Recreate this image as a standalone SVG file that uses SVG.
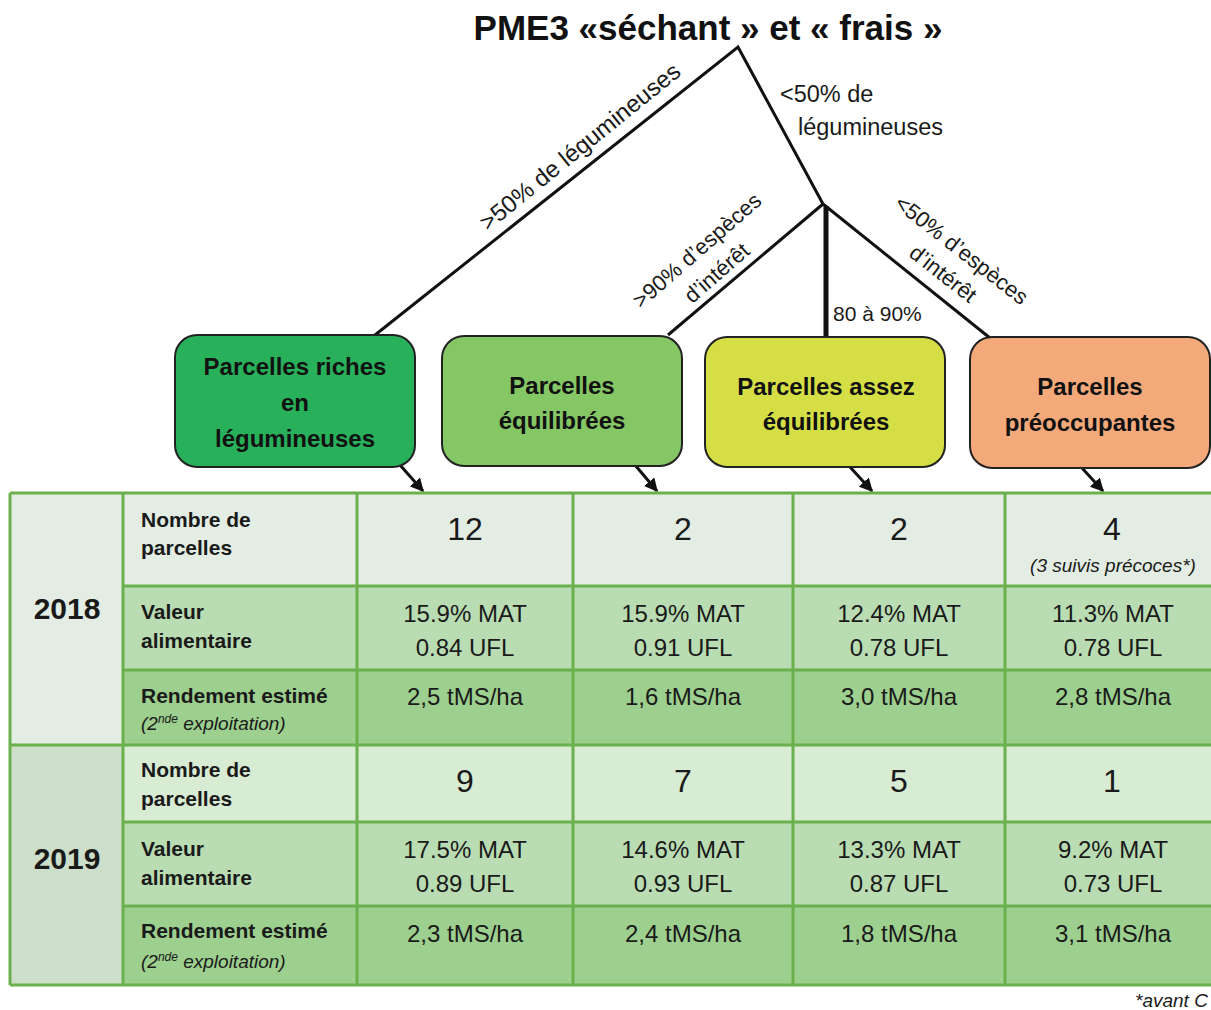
<svg xmlns="http://www.w3.org/2000/svg" width="1211" height="1010" viewBox="0 0 1211 1010">
<defs>
<marker id="ah" viewBox="0 0 10 10" refX="9" refY="5" markerWidth="4.5" markerHeight="4.5" orient="auto" markerUnits="strokeWidth">
<path d="M0,0 L10,5 L0,10 z" fill="#111"/>
</marker>
<style>
text{font-family:"Liberation Sans",Arial,sans-serif;fill:#1a1a1a}
.title{font-size:35px;font-weight:bold;text-anchor:middle;fill:#111}
.lbl{font-size:22px}
.box{stroke:#222;stroke-width:2}
.bt{font-size:24px;font-weight:bold;text-anchor:middle;fill:#111}
.tree{stroke:#111;stroke-width:3;fill:none}
.arr{stroke:#111;stroke-width:3;fill:none;marker-end:url(#ah)}
.grid{stroke:#6ab04c;stroke-width:3;fill:none}
.rl{font-size:21px;font-weight:bold}
.it{font-size:19px;font-style:italic}
.yr{font-size:30px;font-weight:bold;text-anchor:middle}
.num{font-size:32px;text-anchor:middle}
.val{font-size:24px;text-anchor:middle}
</style>
</defs>

<text class="title" x="708" y="40">PME3 «séchant » et « frais »</text>

<g id="connectors">
<polyline class="tree" points="375,335 738,47 823,204"/>
<line class="tree" x1="823" y1="204" x2="668" y2="335"/>
<line class="tree" x1="823" y1="204" x2="990" y2="338"/>
<line x1="826" y1="206" x2="826" y2="338" stroke="#111" stroke-width="5"/>
<line class="arr" x1="400" y1="465" x2="423" y2="491"/>
<line class="arr" x1="635" y1="465" x2="657" y2="491"/>
<line class="arr" x1="850" y1="467" x2="872" y2="491"/>
<line class="arr" x1="1082" y1="468" x2="1103" y2="491"/>
<text class="lbl" transform="translate(585,153) rotate(-39)" text-anchor="middle" style="font-size:24px">&gt;50% de légumineuses</text>
<text class="lbl" x="780" y="102" style="font-size:23.5px">&lt;50% de</text>
<text class="lbl" x="798" y="135" style="font-size:23.5px">légumineuses</text>
<g transform="translate(702,256) rotate(-41)">
<text class="lbl" x="0" y="0" text-anchor="middle">&gt;90% d’espèces</text>
<text class="lbl" x="0" y="30" text-anchor="middle">d’intérêt</text>
</g>
<text class="lbl" x="833" y="321" style="font-size:21px">80 à 90%</text>
<g transform="translate(957,256) rotate(38)">
<text class="lbl" x="0" y="0" text-anchor="middle">&lt;50% d’espèces</text>
<text class="lbl" x="0" y="30" text-anchor="middle">d’intérêt</text>
</g>
</g>

<g id="node-riches">
<rect class="box" x="175" y="335" width="240" height="132" rx="22" fill="#28b05b"/>
<text class="bt" x="295" y="375">Parcelles riches</text>
<text class="bt" x="295" y="411">en</text>
<text class="bt" x="295" y="447">légumineuses</text>
</g>
<g id="node-equilibrees">
<rect class="box" x="442" y="336" width="240" height="130" rx="22" fill="#85c665"/>
<text class="bt" x="562" y="394">Parcelles</text>
<text class="bt" x="562" y="429">équilibrées</text>
</g>
<g id="node-assez">
<rect class="box" x="705" y="337" width="240" height="130" rx="22" fill="#d5df45"/>
<text class="bt" x="826" y="395">Parcelles assez</text>
<text class="bt" x="826" y="430">équilibrées</text>
</g>
<g id="node-preoccupantes">
<rect class="box" x="970" y="337" width="240" height="131" rx="22" fill="#f4a97b"/>
<text class="bt" x="1090" y="395">Parcelles</text>
<text class="bt" x="1090" y="431">préoccupantes</text>
</g>

<g id="table">
<rect x="10" y="493" width="113" height="252" fill="#e3ede3"/>
<rect x="10" y="745" width="113" height="240" fill="#cddfca"/>
<rect x="123" y="493" width="1102" height="93" fill="#e3ede3"/>
<rect x="123" y="586" width="1102" height="84" fill="#b9dcb2"/>
<rect x="123" y="670" width="1102" height="75" fill="#9dcf8e"/>
<rect x="123" y="745" width="1102" height="77" fill="#d8ebd3"/>
<rect x="123" y="822" width="1102" height="84" fill="#b9dcb2"/>
<rect x="123" y="906" width="1102" height="79" fill="#9dcf8e"/>
<path class="grid" d="M10,493 H1225 M10,745 H1225 M10,985 H1225 M123,586 H1225 M123,670 H1225 M123,822 H1225 M123,906 H1225 M10,493 V985 M123,493 V985 M357,493 V985 M573,493 V985 M793,493 V985 M1005,493 V985"/>

<text class="yr" x="67" y="619">2018</text>
<text class="yr" x="67" y="869">2019</text>

<text class="rl" x="141" y="527">Nombre de</text>
<text class="rl" x="141" y="555">parcelles</text>
<text class="rl" x="141" y="619">Valeur</text>
<text class="rl" x="141" y="648">alimentaire</text>
<text class="rl" x="141" y="703">Rendement estimé</text>
<text class="it" x="141" y="730">(2<tspan dy="-7" font-size="12">nde</tspan><tspan dy="7"> exploitation)</tspan></text>

<text class="rl" x="141" y="777">Nombre de</text>
<text class="rl" x="141" y="806">parcelles</text>
<text class="rl" x="141" y="856">Valeur</text>
<text class="rl" x="141" y="885">alimentaire</text>
<text class="rl" x="141" y="938">Rendement estimé</text>
<text class="it" x="141" y="968">(2<tspan dy="-7" font-size="12">nde</tspan><tspan dy="7"> exploitation)</tspan></text>

<text class="num" x="465" y="540">12</text>
<text class="num" x="683" y="540">2</text>
<text class="num" x="899" y="540">2</text>
<text class="num" x="1112" y="540">4</text>
<text class="it" x="1113" y="572" text-anchor="middle" style="font-size:19px">(3 suivis précoces*)</text>

<text class="val" x="465" y="622">15.9% MAT</text>
<text class="val" x="465" y="656">0.84 UFL</text>
<text class="val" x="683" y="622">15.9% MAT</text>
<text class="val" x="683" y="656">0.91 UFL</text>
<text class="val" x="899" y="622">12.4% MAT</text>
<text class="val" x="899" y="656">0.78 UFL</text>
<text class="val" x="1113" y="622">11.3% MAT</text>
<text class="val" x="1113" y="656">0.78 UFL</text>

<text class="val" x="465" y="705">2,5 tMS/ha</text>
<text class="val" x="683" y="705">1,6 tMS/ha</text>
<text class="val" x="899" y="705">3,0 tMS/ha</text>
<text class="val" x="1113" y="705">2,8 tMS/ha</text>

<text class="num" x="465" y="792">9</text>
<text class="num" x="683" y="792">7</text>
<text class="num" x="899" y="792">5</text>
<text class="num" x="1112" y="792">1</text>

<text class="val" x="465" y="858">17.5% MAT</text>
<text class="val" x="465" y="892">0.89 UFL</text>
<text class="val" x="683" y="858">14.6% MAT</text>
<text class="val" x="683" y="892">0.93 UFL</text>
<text class="val" x="899" y="858">13.3% MAT</text>
<text class="val" x="899" y="892">0.87 UFL</text>
<text class="val" x="1113" y="858">9.2% MAT</text>
<text class="val" x="1113" y="892">0.73 UFL</text>

<text class="val" x="465" y="942">2,3 tMS/ha</text>
<text class="val" x="683" y="942">2,4 tMS/ha</text>
<text class="val" x="899" y="942">1,8 tMS/ha</text>
<text class="val" x="1113" y="942">3,1 tMS/ha</text>
</g>

<text class="it" x="1135" y="1007" style="font-size:19px">*avant C</text>
</svg>
